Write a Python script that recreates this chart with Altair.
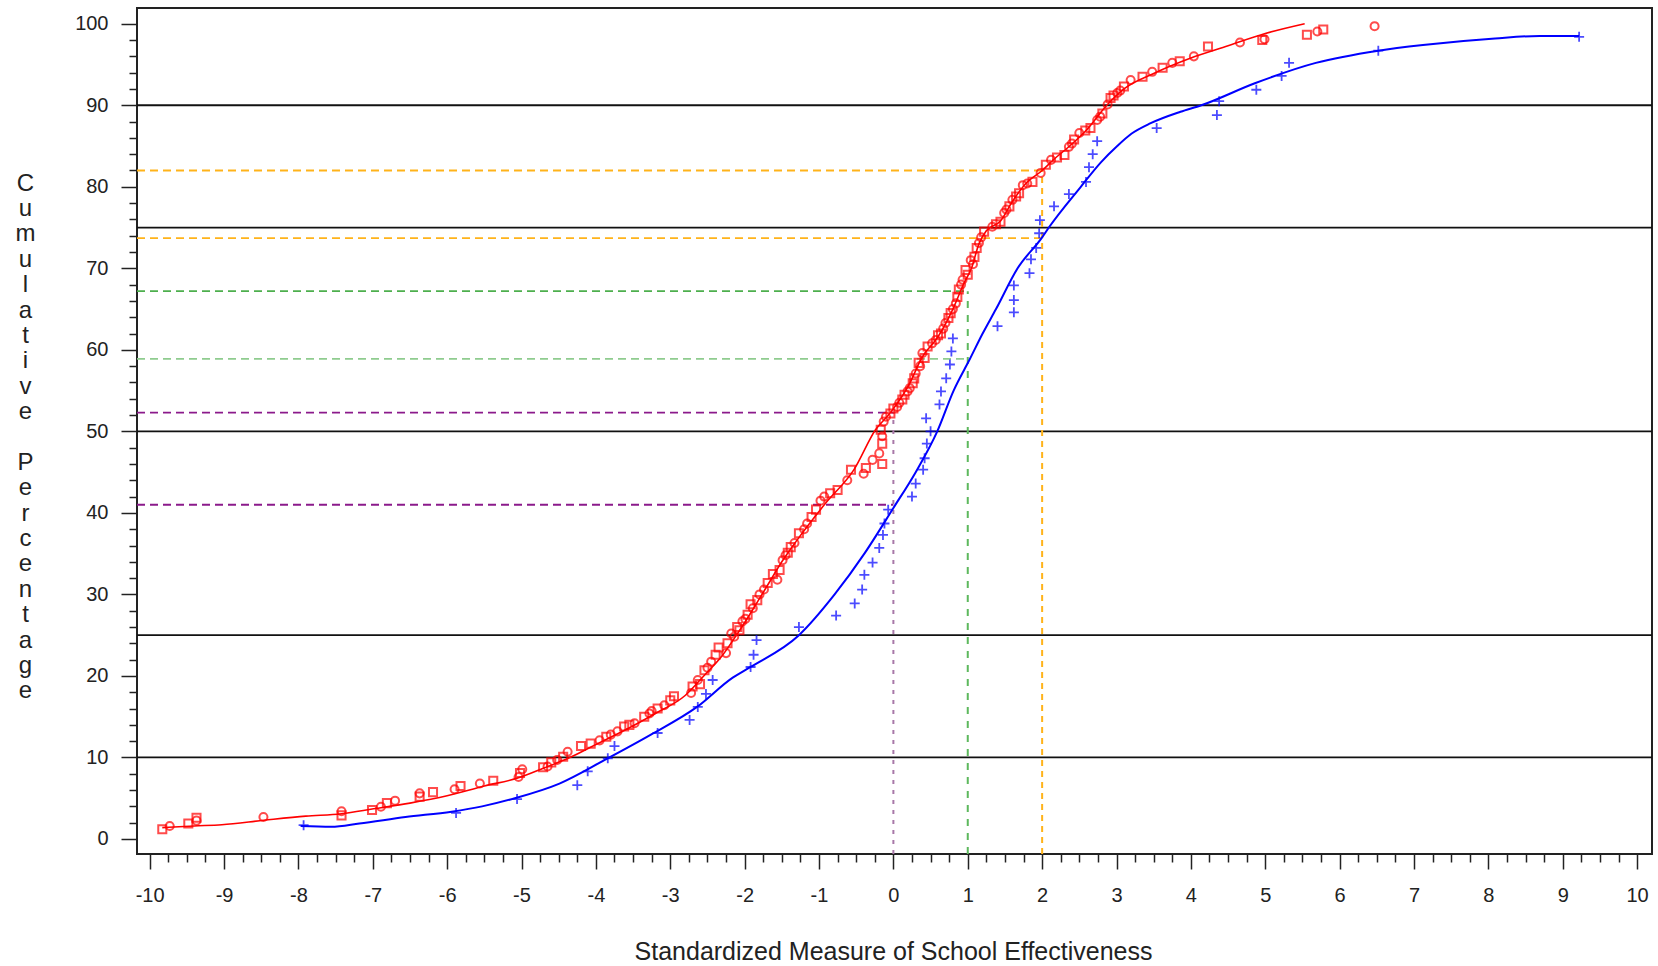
import altair as alt
import pandas as pd

# ---------------- data ----------------
red_line_x = [-9.83, -9.4, -9.03, -8.46, -7.9, -7.42, -6.99, -6.5, -6.0, -5.5, -5.04, -4.7,
              -4.35, -4.0, -3.6, -3.2, -2.8, -2.55, -2.3, -2.11, -1.9, -1.7, -1.5, -1.3,
              -0.91, -0.53, -0.24, -0.04, 0.22, 0.38, 0.6, 0.8, 0.95, 1.05, 1.15, 1.25,
              1.44, 1.6, 1.76, 2.0, 2.15, 2.37, 2.6, 2.87, 3.1, 3.5, 4.0, 4.5, 5.0, 5.53]
red_line_y = [1.4, 1.6, 1.75, 2.3, 2.8, 3.1, 3.7, 4.4, 5.3, 6.5, 7.5, 8.7,
              10.0, 11.6, 13.4, 15.4, 17.6, 20.0, 22.5, 25.0, 28.0, 31.0, 34.0, 36.6,
              41.2, 45.3, 50.2, 52.3, 55.9, 59.0, 61.6, 65.0, 68.2, 70.0, 73.0, 74.6,
              75.8, 78.2, 80.2, 82.0, 83.3, 85.0, 87.0, 90.0, 92.0, 93.9, 95.8, 97.3, 98.8, 100.0]

red_pts_x = [-9.83, -9.73, -9.48, -9.37, -9.37, -8.47, -7.42, -7.42, -7.01, -6.89, -6.81, -6.70,
             -6.37, -6.37, -6.19, -5.90, -5.82, -5.56, -5.38, -5.04, -5.02, -4.99, -4.71, -4.65,
             -4.60, -4.52, -4.44, -4.38, -4.07, -3.95, -3.86, -3.71, -3.62, -3.48, -3.35, -3.28,
             -3.17, -3.08, -2.95, -2.72, -2.70, -2.63, -2.54, -2.45, -2.39, -2.25, -2.23, -2.14,
             -2.07, -2.03, -1.96, -1.89, -1.83, -1.74, -1.69, -1.56, -1.53, -1.49, -1.42, -1.33,
             -1.27, -1.16, -1.04, -0.93, -0.75, -0.62, -0.57, -0.40, -0.37, -0.28, -0.15, -0.19,
             -0.15, -0.15, -0.17, -0.13, -0.04, 0.05, 0.12, 0.19, 0.26, 0.30, 0.34, 0.39,
             0.46, 0.57, 0.64, 0.70, 0.77, 0.84, 0.88, 0.93, 0.97, 1.04, 1.09, 1.15,
             1.22, 1.33, 1.44, 1.49, 1.56, 1.60, 1.69, 1.74, 1.87, 1.98, 2.05, 2.12,
             2.30, 2.36, 2.43, 2.50, 2.65, 2.74, 2.81, 2.88, 2.92, 3.01, 3.10, 3.19,
             3.35, 3.48, 3.62, 3.75, 3.85, 4.04, 4.23, 4.66, 4.96, 4.99, 5.56, 5.70, 5.78, 6.47,
             -2.60, -2.50, -2.35, -2.18, -2.10, -1.99, -1.92, -1.80, -1.62, -1.45, -1.38, -1.20,
             -1.10, -0.98, -0.85, -0.10, 0.00, 0.08, 0.15, 0.22, 0.28, 0.36, 0.42, 0.52,
             0.60, 0.67, 0.74, 0.80, 0.86, 0.91, 1.00, 1.07, 1.12, 1.18, 1.38, 1.52,
             1.65, 1.80, 2.20, 2.40, 2.58, 2.78, 2.96, 3.05, -3.00, -3.25, -3.55, -3.80, -4.20]
red_pts_y = [1.2, 1.6, 1.9, 2.25, 2.6, 2.7, 2.9, 3.4, 3.55, 3.95, 4.4, 4.7,
             5.2, 5.6, 5.75, 6.1, 6.5, 6.8, 7.15, 7.6, 8.1, 8.55, 8.8, 8.9,
             9.4, 9.7, 10.1, 10.7, 11.7, 12.1, 12.55, 13.2, 13.8, 14.2, 15.0, 15.4,
             16.0, 16.4, 17.5, 17.9, 18.7, 19.5, 20.7, 21.75, 22.6, 22.8, 24.0, 24.8,
             25.6, 26.7, 27.5, 28.3, 29.3, 30.6, 31.4, 31.8, 33.0, 34.2, 35.1, 36.3,
             37.5, 38.7, 40.4, 42.0, 42.8, 44.0, 45.3, 44.8, 45.5, 46.5, 46.0, 47.3,
             48.5, 49.4, 50.2, 51.2, 52.2, 53.0, 53.9, 54.9, 55.9, 57.1, 58.4, 59.6,
             60.4, 61.2, 62.0, 63.3, 64.5, 65.7, 67.4, 68.6, 69.8, 71.0, 71.4, 73.1,
             74.5, 75.1, 75.7, 76.8, 77.6, 78.4, 79.2, 80.2, 80.6, 81.7, 82.7, 83.3,
             83.9, 84.9, 85.8, 86.6, 87.2, 88.2, 89.0, 90.1, 90.9, 91.5, 92.3, 93.1,
             93.5, 94.1, 94.6, 95.2, 95.4, 96.0, 97.2, 97.7, 98.0, 98.1, 98.65, 99.05, 99.3, 99.7,
             19.0, 21.0, 23.5, 25.2, 26.0, 27.0, 28.8, 30.0, 32.5, 34.8, 35.8, 38.0,
             39.5, 41.5, 42.4, 51.8, 52.8, 53.5, 54.5, 55.3, 56.5, 58.0, 59.0, 60.8,
             61.8, 62.6, 63.9, 65.0, 66.5, 68.0, 69.2, 70.5, 72.5, 73.8, 75.4, 77.2,
             78.8, 80.4, 83.6, 85.3, 86.9, 88.6, 91.2, 91.8, 17.0, 15.7, 14.0, 12.8, 11.4]

blue_line_x = [-7.97, -7.56, -7.18, -6.56, -5.94, -5.53, -5.09, -4.49, -3.88, -3.26,
               -2.64, -2.16, -1.92, -1.27, -0.79, -0.39, 0.0, 0.30, 0.59, 0.81,
               1.03, 1.2, 1.38, 1.67, 2.0, 2.09, 2.52, 2.79, 3.01, 3.2, 3.46, 3.86, 4.14,
               4.86, 5.68, 6.52, 7.12, 8.09, 8.69, 9.22]
blue_line_y = [1.6, 1.5, 1.9, 2.7, 3.35, 4.0, 5.0, 6.8, 9.7, 12.8,
               16.2, 19.8, 21.1, 25.0, 30.0, 35.0, 40.6, 45.0, 50.0, 55.0,
               58.9, 62.0, 65.0, 70.0, 73.8, 75.0, 80.0, 83.0, 85.0, 86.5, 87.8, 89.2, 90.0,
               92.7, 95.2, 96.7, 97.4, 98.2, 98.5, 98.5]

blue_pts_x = [-7.93, -5.88, -5.06, -4.25, -4.11, -3.84, -3.75, -3.17, -2.74, -2.63, -2.52,
              -2.43, -1.92, -1.88, -1.84, -1.27, -0.77, -0.52, -0.42, -0.39, -0.28, -0.19,
              -0.14, -0.12, -0.07, 0.25, 0.30, 0.40, 0.42, 0.45, 0.50, 0.44, 0.62, 0.64,
              0.71, 0.76, 0.78, 0.80, 1.40, 1.62, 1.62, 1.62, 1.83, 1.85, 1.92, 1.96, 1.97,
              2.16, 2.36, 2.59, 2.63, 2.68, 2.74, 3.54, 4.35, 4.38, 4.88, 5.22, 5.32, 6.52, 9.22]
blue_pts_y = [1.7, 3.2, 4.9, 6.6, 8.3, 9.9, 11.4, 13.0, 14.6, 16.2, 17.8,
              19.5, 21.1, 22.6, 24.4, 26.0, 27.4, 28.9, 30.6, 32.4, 33.9, 35.7,
              37.3, 38.7, 40.4, 42.0, 43.6, 45.3, 46.7, 48.5, 50.0, 51.6, 53.3, 54.9,
              56.5, 58.2, 59.8, 61.4, 62.9, 64.6, 66.1, 67.9, 69.4, 71.1, 72.5, 74.3, 75.9,
              77.6, 79.1, 80.6, 82.4, 84.0, 85.6, 87.2, 88.8, 90.5, 91.9, 93.6, 95.2, 96.7, 98.4]

quartile_lines = [10, 25, 50, 75, 90]

# dashed reference lines: (y level, x end, colour)
h_ref_y = [82.0, 73.7, 67.2, 58.9, 52.3, 41.0]
h_ref_xend = [2, 2, 1, 1, 0, 0]
h_ref_col = ["#FFB31A", "#FFB31A", "#4DAF4D", "#8FCC8F", "#8B1A8B", "#8B1A8B"]
v_ref_x = [2, 1, 0]
v_ref_ytop = [82.0, 67.2, 52.3]
v_ref_col = ["#FFB31A", "#5DB85D", "#A878A8"]
v_ref_dash = [[6, 5], [7, 7], [4, 6]]

x_tick_vals = [round(-10 + 0.25 * i, 2) for i in range(81)]
y_tick_vals = list(range(0, 101, 2))

XMIN, XMAX = -10.17, 10.2
YMIN, YMAX = -1.84, 101.93

# ---------------- chart ----------------
font = "Liberation Sans"
x_scale = alt.Scale(domain=[XMIN, XMAX], nice=False, zero=False)
y_scale = alt.Scale(domain=[YMIN, YMAX], nice=False, zero=False)

major_x = "abs(datum.value - round(datum.value)) < 0.01"
major_y = "datum.value % 10 === 0"

x_axis = alt.Axis(
    values=x_tick_vals, domain=False, grid=False,
    labelExpr=f"{major_x} ? '' + round(datum.value) : ''",
    tickSize={"condition": {"test": major_x, "value": 15}, "value": 8},
    tickColor="#222", tickWidth=1.5,
    labelFont=font, labelFontSize=20, labelColor="#222", labelPadding=16,
    labelOverlap=False, labelFlush=False, labelBound=False,
    title="Standardized Measure of School Effectiveness",
    titleFont=font, titleFontSize=25, titleFontWeight="normal", titleColor="#222",
    titleX=756, titleY=105, titleAlign="center", titleBaseline="alphabetic",
)
y_letters = list("Cumulative") + ["\u2800"] + list("Percentage")
y_axis = alt.Axis(
    values=y_tick_vals, domain=False, grid=False,
    labelExpr=f"{major_y} ? '' + datum.value : ''",
    tickSize={"condition": {"test": major_y, "value": 16}, "value": 8},
    tickColor="#222", tickWidth=1.5,
    labelFont=font, labelFontSize=20, labelColor="#222", labelPadding=13,
    labelOverlap=False, labelFlush=False, labelBound=False,
    title=y_letters, titleAngle=0, titleFont=font, titleFontSize=24,
    titleFontWeight="normal", titleColor="#222", titleLineHeight=25.4,
    titleX=-112, titleY=175, titleAlign="center", titleBaseline="middle",
)


def X(f):
    return alt.X(f, type="quantitative", scale=x_scale, axis=x_axis)


def Y(f):
    return alt.Y(f, type="quantitative", scale=y_scale, axis=y_axis)


layers = []

qdf = pd.DataFrame({"y": quartile_lines})
layers.append(alt.Chart(qdf).mark_rule(color="#111", strokeWidth=1.8).encode(y=Y("y")))

for yv, xe, col in zip(h_ref_y, h_ref_xend, h_ref_col):
    d = pd.DataFrame({"x": [XMIN], "x2": [xe], "y": [yv]})
    layers.append(alt.Chart(d).mark_rule(color=col, strokeWidth=1.8, strokeDash=[8, 5]).encode(
        x=X("x"), x2="x2", y=Y("y")))

for xv, yt, col, dash in zip(v_ref_x, v_ref_ytop, v_ref_col, v_ref_dash):
    d = pd.DataFrame({"x": [xv], "y": [YMIN], "y2": [yt]})
    layers.append(alt.Chart(d).mark_rule(color=col, strokeWidth=2, strokeDash=dash).encode(
        x=X("x"), y=Y("y"), y2="y2"))

bl = pd.DataFrame({"x": blue_line_x, "y": blue_line_y})
layers.append(alt.Chart(bl).mark_line(color="#0000FF", strokeWidth=2, interpolate="monotone").encode(
    x=X("x"), y=Y("y")))
rl = pd.DataFrame({"x": red_line_x, "y": red_line_y})
layers.append(alt.Chart(rl).mark_line(color="#FF0000", strokeWidth=1.6, interpolate="monotone").encode(
    x=X("x"), y=Y("y")))

rp = pd.DataFrame({"x": red_pts_x, "y": red_pts_y,
                   "s": ["square" if i % 2 == 0 else "circle" for i in range(len(red_pts_x))]})
layers.append(alt.Chart(rp).mark_point(color="#FF0000", filled=False, strokeWidth=2, size=65).encode(
    x=X("x"), y=Y("y"), shape=alt.Shape("s:N", scale=None)))

bp = pd.DataFrame({"x": blue_pts_x, "y": blue_pts_y})
layers.append(alt.Chart(bp).mark_point(color="#0000FF", filled=False, strokeWidth=1.8, size=100,
                                       shape="M-1,0L1,0M0,-1L0,1").encode(x=X("x"), y=Y("y")))

chart = alt.layer(*layers).properties(
    width=1515, height=846,
    padding={"left": 137, "top": 8, "right": 6, "bottom": 112},
    autosize=alt.AutoSizeParams(type="none"),
    background="white",
).configure_view(stroke="#222", strokeWidth=2)

chart.save("out.html", embed_options={"renderer": "svg", "actions": False})
